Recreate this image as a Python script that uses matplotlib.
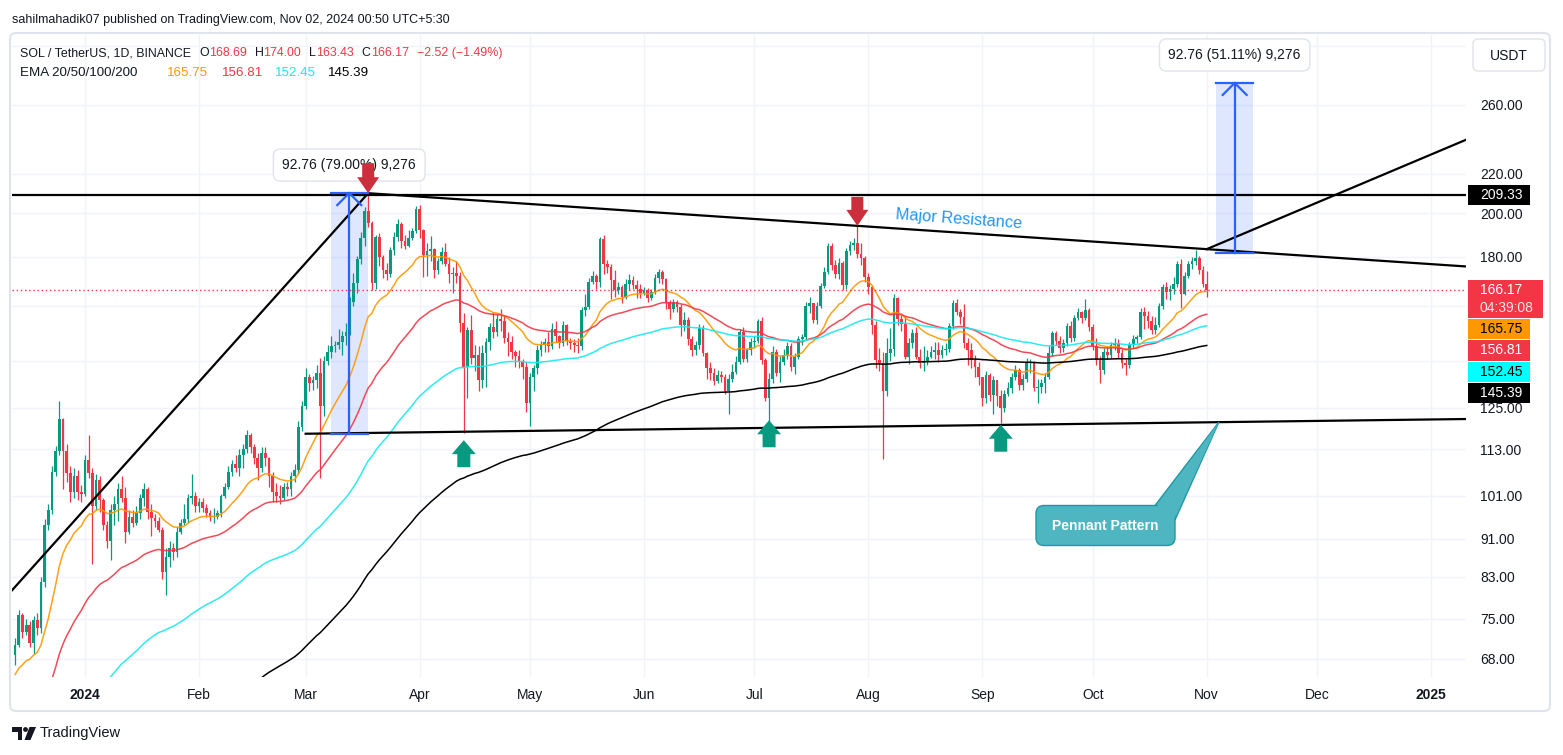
import numpy as np
import pandas as pd
import matplotlib
matplotlib.use("Agg")
import matplotlib.pyplot as plt
from matplotlib.patches import Rectangle, Polygon, FancyBboxPatch, Circle
from matplotlib.ticker import FixedLocator, FixedFormatter, NullLocator

plt.rcParams['font.family'] = ['Liberation Sans', 'DejaVu Sans']

W, H = 1563, 755
GREEN = '#089981'
RED = '#F23645'
TXT = '#131722'

# ---- SOL/USDT daily candles: (close, high, low) ----
first_open = 68.6
dec23 = [(70.4, 71.5, 67.0), (75.6, 76.5, 70.0), (72.6, 76.0, 71.5), (73.8, 75.0, 72.0), (70.7, 74.5, 70.0),
         (74.8, 75.5, 68.8), (73.3, 76.0, 72.0), (82.0, 83.0, 72.5), (94.0, 95.5, 81.0), (97.5, 99.0, 93.0),
         (107.0, 108.5, 96.5), (112.5, 114.0, 106.0), (121.6, 126.9, 111.5), (112.5, 122.0, 102.6),
         (106.7, 114.5, 104.5), (101.8, 108.5, 99.5), (106.0, 108.0, 100.5), (101.8, 107.5, 100.0),
         (101.5, 103.5, 99.5)]
jan24 = [(110.0, 111.5, 101.0), (106.7, 117.0, 105.5), (98.4, 108.0, 85.5), (105.0, 106.5, 97.5), (100.0, 106.0, 97.0),
         (94.0, 100.5, 93.0), (90.5, 95.0, 89.0), (97.5, 99.0, 86.5), (99.0, 101.0, 94.0), (102.5, 104.0, 95.0),
         (100.5, 106.0, 99.5), (92.5, 103.0, 90.0), (96.0, 97.5, 92.0), (94.5, 97.5, 93.5), (96.8, 98.5, 94.0),
         (100.4, 101.5, 95.5), (102.5, 104.0, 98.5), (97.0, 103.0, 95.5), (95.6, 99.0, 91.5), (95.0, 96.5, 93.5),
         (93.0, 96.0, 92.5), (84.0, 93.5, 82.5), (87.0, 89.0, 79.3), (89.0, 90.5, 85.0), (88.0, 90.0, 86.5),
         (92.5, 93.5, 87.0), (94.5, 95.5, 92.0), (95.5, 99.0, 94.0), (100.5, 101.5, 94.5), (100.8, 106.5, 99.0),
         (98.5, 102.0, 97.0)]
feb24 = [(99.5, 100.5, 97.0), (98.0, 100.5, 97.0), (96.8, 99.0, 96.0), (95.8, 97.5, 95.0), (96.0, 98.0, 94.5),
         (96.8, 97.5, 95.5), (101.0, 101.5, 96.0), (103.0, 104.0, 100.5), (107.0, 108.5, 102.5), (109.0, 110.0, 106.0),
         (108.0, 111.5, 107.0), (111.5, 113.0, 106.0), (113.0, 114.5, 108.0), (117.0, 118.5, 112.0), (113.5, 117.5, 112.0),
         (110.5, 114.5, 109.0), (108.0, 112.0, 105.0), (112.0, 113.5, 107.0), (110.5, 113.5, 108.5), (106.0, 111.0, 103.0),
         (102.0, 107.0, 99.5), (101.0, 104.0, 99.5), (100.5, 103.5, 99.0), (103.0, 104.0, 100.0), (102.5, 104.5, 101.0),
         (106.0, 107.0, 101.0), (107.5, 109.0, 104.5), (119.1, 121.0, 106.5), (125.5, 127.0, 118.0)]
mar24 = [(134.5, 137.5, 124.5), (132.5, 135.5, 130.0), (133.5, 135.0, 130.5), (136.0, 138.5, 131.0), (125.5, 141.0, 105.3),
         (140.0, 141.5, 122.5), (143.0, 145.5, 138.5), (145.0, 148.5, 141.0), (145.5, 147.0, 143.0), (146.5, 151.0, 144.0),
         (148.5, 150.5, 142.0), (150.0, 153.5, 145.5), (161.5, 163.5, 149.0), (169.0, 173.0, 160.0), (179.0, 180.5, 165.0),
         (188.5, 191.0, 177.0), (201.0, 203.0, 185.0), (195.5, 210.0, 193.5), (169.0, 196.5, 166.0), (189.0, 190.0, 166.5),
         (180.0, 190.5, 176.0), (174.5, 181.0, 171.0), (172.5, 177.5, 170.0), (183.0, 184.5, 171.5), (189.0, 191.0, 181.0),
         (195.0, 197.5, 187.0), (187.0, 196.0, 184.0), (185.0, 190.0, 183.5), (188.5, 192.0, 184.5), (191.5, 193.0, 187.5),
         (202.0, 203.5, 190.5)]
apr24 = [(192.0, 204.0, 188.5), (181.0, 192.5, 171.5), (182.5, 186.0, 172.0), (183.5, 189.5, 178.0), (174.5, 184.0, 171.0),
         (178.0, 179.5, 172.5), (182.0, 184.5, 177.0), (177.0, 186.0, 176.0), (172.5, 180.0, 169.0), (173.0, 175.5, 165.0),
         (172.0, 178.0, 169.0), (153.4, 173.5, 150.0), (138.0, 157.0, 117.5), (150.8, 152.0, 128.0), (141.0, 156.5, 139.0),
         (142.0, 145.5, 136.5), (133.5, 145.0, 130.0), (142.5, 145.5, 131.0), (146.5, 148.0, 131.5), (152.0, 153.5, 143.5),
         (150.0, 157.5, 148.0), (155.0, 157.0, 148.5), (154.0, 158.5, 150.5), (148.0, 156.0, 146.0), (146.5, 150.0, 141.5),
         (143.0, 148.5, 140.5), (141.5, 143.5, 138.0), (139.5, 143.5, 137.5), (138.0, 140.5, 134.0), (126.5, 139.5, 123.5)]
may24 = [(134.7, 136.0, 119.5), (137.5, 138.5, 130.0), (143.5, 145.5, 135.5), (145.5, 147.0, 141.5), (146.5, 148.0, 143.0),
         (145.0, 150.0, 143.0), (151.0, 153.5, 144.0), (148.5, 154.0, 146.5), (146.0, 149.0, 144.5), (152.5, 154.0, 145.0),
         (147.0, 153.0, 145.5), (146.0, 148.0, 144.0), (145.5, 147.5, 143.0), (145.0, 148.0, 142.5), (158.3, 159.5, 143.5),
         (159.5, 164.5, 156.0), (169.5, 171.0, 158.5), (172.0, 174.0, 168.5), (169.5, 172.5, 166.5), (187.8, 189.0, 167.5),
         (176.8, 190.0, 172.5), (175.5, 178.5, 173.0), (170.2, 177.0, 162.5), (166.0, 174.5, 163.5), (167.5, 169.5, 164.5),
         (163.5, 168.0, 161.0), (168.5, 170.5, 162.5), (170.0, 172.5, 166.0), (168.0, 172.0, 166.5), (166.5, 170.0, 163.0),
         (165.0, 168.5, 163.0)]
jun24 = [(166.0, 167.5, 164.0), (163.0, 167.0, 161.5), (165.5, 166.5, 162.0), (171.0, 172.5, 164.5), (173.5, 175.0, 169.0),
         (170.5, 174.5, 168.5), (161.4, 171.0, 158.5), (158.5, 162.0, 155.0), (161.5, 162.5, 157.5), (159.5, 162.0, 157.5),
         (152.5, 160.5, 148.5), (154.5, 157.5, 150.5), (147.5, 155.5, 145.5), (143.7, 148.5, 141.5), (145.5, 147.0, 142.0),
         (151.4, 153.0, 144.0), (142.5, 152.5, 141.5), (137.5, 143.0, 134.0), (135.8, 139.5, 133.5), (133.4, 137.5, 132.0),
         (135.3, 137.0, 132.5), (134.5, 136.5, 133.0), (130.0, 135.5, 129.0), (134.0, 135.5, 123.0), (136.3, 139.0, 133.0),
         (139.7, 141.5, 135.5), (150.0, 151.0, 139.0), (140.5, 152.0, 139.5), (143.5, 144.5, 139.5), (146.5, 148.0, 142.0)]
jul24 = [(147.0, 148.5, 144.5), (154.0, 155.0, 146.0), (140.3, 155.5, 139.0), (128.0, 141.0, 127.0), (134.0, 136.0, 120.8),
         (143.1, 145.0, 132.5), (136.0, 144.0, 135.0), (139.7, 141.5, 133.0), (142.0, 144.0, 138.5), (144.9, 146.5, 140.5),
         (138.0, 146.0, 136.5), (141.4, 142.5, 135.5), (147.6, 148.5, 140.5), (148.2, 149.5, 145.5), (159.7, 161.5, 147.5),
         (160.8, 163.5, 157.0), (154.5, 161.0, 153.5), (159.7, 161.5, 153.0), (167.9, 169.0, 159.0), (173.7, 175.5, 167.0),
         (184.9, 186.0, 172.5), (176.5, 186.0, 174.5), (172.5, 178.5, 171.0), (177.5, 179.5, 170.5), (168.0, 178.0, 166.0),
         (182.7, 184.0, 166.5), (185.4, 187.0, 181.0), (186.0, 188.5, 183.0), (181.3, 194.5, 179.5), (179.4, 186.0, 176.5),
         (171.3, 180.5, 169.5)]
aug24 = [(167.3, 173.0, 164.5), (152.8, 168.0, 149.5), (140.3, 154.0, 137.5), (139.1, 144.5, 136.5), (130.2, 143.0, 110.4),
         (142.6, 148.0, 128.5), (144.0, 151.5, 140.0), (162.9, 164.5, 141.5), (155.0, 163.5, 152.5), (153.0, 156.5, 150.5),
         (141.4, 156.0, 140.5), (146.1, 148.0, 139.0), (149.6, 151.0, 144.5), (141.4, 152.0, 140.5), (139.1, 144.0, 137.5),
         (140.0, 145.0, 136.5), (141.4, 143.5, 138.5), (143.0, 145.0, 141.0), (143.7, 146.5, 140.5), (142.0, 146.5, 139.5),
         (143.7, 145.5, 141.0), (144.0, 146.0, 142.0), (152.2, 153.5, 143.0), (160.8, 162.0, 151.0), (157.6, 162.5, 156.5),
         (155.7, 158.5, 153.0), (146.1, 160.5, 144.5), (143.7, 148.0, 138.5), (140.3, 146.0, 137.5), (138.0, 142.0, 134.5),
         (134.7, 139.5, 132.0)]
sep24 = [(127.8, 134.0, 125.5), (135.2, 136.5, 126.5), (128.8, 136.0, 127.0), (133.6, 135.0, 123.2), (128.5, 133.5, 125.5),
         (124.8, 130.5, 120.4), (129.3, 130.5, 123.5), (131.0, 133.0, 128.5), (134.7, 136.0, 129.5), (136.9, 138.5, 133.5),
         (132.1, 137.5, 130.5), (134.0, 135.5, 130.5), (139.1, 141.0, 133.0), (139.5, 140.5, 136.0), (131.1, 140.0, 130.0),
         (131.5, 134.0, 126.5), (132.5, 134.0, 129.5), (134.7, 136.0, 129.5), (142.6, 145.0, 134.0), (149.6, 150.5, 141.5),
         (147.0, 150.5, 145.5), (144.5, 148.5, 142.5), (146.0, 147.5, 143.0), (152.2, 153.5, 145.0), (147.8, 154.0, 146.5),
         (155.1, 156.5, 147.0), (157.6, 159.0, 154.5), (155.1, 158.0, 153.5), (158.3, 162.5, 154.5), (152.0, 159.0, 150.5)]
oct24 = [(144.9, 153.0, 143.5), (140.3, 148.0, 138.5), (136.9, 141.5, 132.8), (143.1, 144.5, 135.5), (142.0, 145.0, 140.5),
         (145.5, 146.5, 141.0), (146.1, 148.0, 143.5), (142.6, 147.5, 141.0), (139.1, 144.0, 137.5), (138.5, 140.5, 135.2),
         (145.5, 146.5, 137.5), (147.6, 149.0, 144.5), (148.2, 149.0, 146.0), (157.6, 159.0, 147.5), (156.0, 159.5, 151.0),
         (154.0, 158.0, 151.5), (150.8, 156.0, 149.5), (152.5, 155.5, 149.5), (159.7, 161.0, 152.0), (167.3, 168.5, 158.5),
         (165.5, 169.5, 162.5), (166.5, 168.0, 162.0), (168.5, 171.5, 164.5), (176.8, 178.0, 167.5), (164.5, 179.0, 159.0),
         (172.0, 173.5, 164.0), (177.0, 178.0, 171.0), (178.2, 180.0, 175.0), (179.5, 183.0, 176.5), (174.4, 180.5, 172.5),
         (168.69, 176.0, 167.5)]
nov24 = [(166.17, 174.00, 163.43)]

# EMA 20/50/100/200: value just before the first candle (read at the left edge) and last values from the legend
ema_spans = [20, 50, 100, 200]
ema_seed = [65.0, 55.0, 43.0, 32.0]
ema_last = [165.75, 156.81, 152.45, 145.39]
ema_colors = ['#FF9800', '#F23645', '#18E8F2', '#000000']

level_price = 209.33
last_price = 166.17

months = ['2024', 'Feb', 'Mar', 'Apr', 'May', 'Jun', 'Jul', 'Aug', 'Sep', 'Oct', 'Nov', 'Dec', '2025']
price_ticks = [68, 75, 83, 91, 101, 113, 125, 140, 160, 180, 200, 220, 260, 300]
hidden_ticks = [140, 160, 300]   # covered by badges / the USDT box in the reference

# ---------------------------------------------------------------------
rows = dec23 + jan24 + feb24 + mar24 + apr24 + may24 + jun24 + jul24 + aug24 + sep24 + oct24 + nov24
close = np.array([r[0] for r in rows])
high = np.array([r[1] for r in rows])
low = np.array([r[2] for r in rows])
base = pd.Timestamp('2024-01-01')
dates = pd.date_range('2023-12-13', periods=len(rows), freq='D')
x = np.asarray((dates - base).days, dtype=float)
opens = np.r_[first_open, close[:-1]]
high = np.maximum(high, np.maximum(opens, close))
low = np.minimum(low, np.minimum(opens, close))


def day(s):
    return float((pd.Timestamp(s) - base).days)


fig = plt.figure(figsize=(W / 100, H / 100), dpi=100)
fig.patch.set_facecolor('white')
L, R, T, B = 12, 1466, 35, 677
ax = fig.add_axes([L / W, 1 - B / H, (R - L) / W, (B - T) / H])
ax.set_yscale('log')
x0, x1 = -19.85, 375.5
y0, y1 = 65.1, 308.0
ax.set_xlim(x0, x1)
ax.set_ylim(y0, y1)

for s in ax.spines.values():
    s.set_visible(False)
ax.grid(True, color='#F0F3FA', lw=1)
ax.set_axisbelow(True)

# candles
up = close >= opens
col = np.where(up, GREEN, RED)
ax.vlines(x, low, high, colors=col, lw=0.9, zorder=3)
bot = np.minimum(opens, close)
top = np.maximum(np.maximum(opens, close), bot * 1.003)
ax.bar(x, top - bot, bottom=bot, width=0.74, color=col, lw=0, zorder=4)

# EMAs
for span, seed, c in zip(ema_spans, ema_seed, ema_colors):
    e = pd.Series(np.r_[seed, close]).ewm(span=span, adjust=False).mean().values[1:]
    ax.plot(x, e, color=c, lw=1.1, zorder=5, alpha=0.9 if c != '#000000' else 1)


# drawings
def ext(p, q, xe):
    (xa, pa), (xb, pb) = p, q
    return np.exp(np.log(pa) + (np.log(pb) - np.log(pa)) * (xe - xa) / (xb - xa))


peak = (day('2024-03-18'), 210.0)
res_b = (day('2024-11-01'), 183.4)
sup_a = (day('2024-03-01'), 117.31)
sup_b = (day('2024-11-01'), 120.6)
left_a = (x0, 80.3)
brk_end = (x1, 239.0)

ax.axhline(level_price, color='black', lw=1.6, zorder=6)
ax.axhline(last_price, color=RED, lw=1, ls=(0, (1, 2)), zorder=6)
ax.plot([left_a[0], peak[0]], [left_a[1], peak[1]], color='black', lw=1.6, zorder=6)
ax.plot([peak[0], x1], [peak[1], ext(peak, res_b, x1)], color='black', lw=1.6, zorder=6)
ax.plot([sup_a[0], x1], [sup_a[1], ext(sup_a, sup_b, x1)], color='black', lw=1.6, zorder=6)
ax.plot([res_b[0], brk_end[0]], [res_b[1], brk_end[1]], color='black', lw=1.6, zorder=6)

# price ticks / month ticks
ax.yaxis.set_major_locator(FixedLocator(price_ticks))
ax.yaxis.set_major_formatter(FixedFormatter(['' if v in hidden_ticks else '%.2f' % v for v in price_ticks]))
ax.yaxis.set_minor_locator(NullLocator())
ax.yaxis.tick_right()
ax.tick_params(axis='y', length=0, pad=10, labelsize=10, labelcolor=TXT)
mstarts = pd.date_range('2024-01-01', '2025-01-01', freq='MS')
ax.set_xticks(np.asarray((mstarts - base).days, dtype=float))
ax.set_xticklabels(months)
ax.tick_params(axis='x', length=0, pad=8, labelsize=10, labelcolor=TXT)
for t in ax.get_xticklabels():
    if t.get_text() in ('2024', '2025'):
        t.set_fontweight('bold')

# overlay in pixel coordinates
ov = fig.add_axes([0, 0, 1, 1], zorder=5)
ov.set_xlim(0, W)
ov.set_ylim(H, 0)
ov.axis('off')
ov.patch.set_visible(False)


def to_px(d, p):
    X, Y = ax.transData.transform((d, p))
    return X, H - Y


# measurement boxes
BLUE = '#2962FF'
measures = [((66.8, 76.9), (117.31, 210.07), '92.76 (79.00%) 9,276'),
            ((307.5, 317.7), (181.49, 274.25), '92.76 (51.11%) 9,276')]
for (da, db), (pa, pb), lab in measures:
    ax.add_patch(Rectangle((da, pa), db - da, pb - pa, fc=BLUE, alpha=0.15, ec='none', zorder=2))
    ax.plot([da, db], [pa, pa], color=BLUE, lw=1.6, zorder=7)
    ax.plot([da, db], [pb, pb], color=BLUE, lw=1.6, zorder=7)
    dc = (da + db) / 2
    ax.plot([dc, dc], [pa, pb], color=BLUE, lw=1.6, zorder=7)
    tx, ty = to_px(dc, pb)
    ov.plot([tx - 12, tx, tx + 12], [ty + 12, ty, ty + 12], color=BLUE, lw=1.6)
    ov.text(tx, ty - 28, lab, ha='center', va='center', fontsize=10, color=TXT, zorder=4,
            bbox=dict(boxstyle='round,pad=0.65,rounding_size=0.5', fc='white', ec='#E0E3EB', lw=1))


def block_arrow(d, p, color, down, hw, hh, sw, sh):
    tx, ty = to_px(d, p)
    s = -1 if down else 1
    pts = [(0, 0), (hw, hh), (sw, hh), (sw, hh + sh), (-sw, hh + sh), (-sw, hh), (-hw, hh)]
    ov.add_patch(Polygon([(tx + a, ty + s * b) for a, b in pts], closed=True, fc=color, ec='none', zorder=10))


block_arrow(peak[0], peak[1], '#CC2F3C', True, 11, 16, 6, 14)
block_arrow(day('2024-07-29'), ext(peak, res_b, day('2024-07-29')), '#CC2F3C', True, 11, 16, 6, 13)
block_arrow(day('2024-04-13'), 115.5, GREEN, False, 12, 14, 6.5, 13)
block_arrow(day('2024-07-05'), 121.2, GREEN, False, 12, 14, 6.5, 13)
block_arrow(day('2024-09-06'), 119.9, GREEN, False, 12, 14, 6.5, 13)

ov.text(959, 219, 'Major Resistance', color='#2196F3', fontsize=11.8, rotation=-4.2,
        ha='center', va='center', rotation_mode='anchor')

# pennant callout
TEAL = '#4DB6C1'
TEAL_E = '#1E98A6'
tip = to_px(308.3, ext(sup_a, sup_b, 308.3))
ptr = [(1155, 505.5), (1175, 520), tip]
ov.add_patch(Polygon(ptr, closed=True, fc=TEAL, ec=TEAL_E, lw=1))
ov.add_patch(FancyBboxPatch((1036, 505.5), 139, 40, boxstyle='round,pad=0,rounding_size=8',
                            fc=TEAL, ec=TEAL_E, lw=1))
ov.add_patch(Polygon([(1157, 506.5), (1174, 519), tip], closed=True, fc=TEAL, ec='none'))
ov.text(1105.5, 525.5, 'Pennant Pattern', color='white', fontsize=10, fontweight='bold',
        ha='center', va='center')

# chart frame and price-scale box
ov.add_patch(FancyBboxPatch((10, 33), 1540, 678, boxstyle='round,pad=0,rounding_size=6',
                            fc='none', ec='#E0E3EB', lw=1.5))
ov.add_patch(FancyBboxPatch((1473, 39), 72, 32, boxstyle='round,pad=0,rounding_size=5',
                            fc='white', ec='#E0E3EB', lw=1))
ov.text(1509, 55.5, 'USDT', fontsize=10, color=TXT, ha='center', va='center')

# price badges
badges = [(185, 205, 1530, 'black', ['%.2f' % level_price], 'white'),
          (280, 318, 1543, RED, ['%.2f' % last_price, '04:39:08'], 'white'),
          (319, 339, 1530, '#FF9800', ['%.2f' % ema_last[0]], 'black'),
          (340, 361, 1530, RED, ['%.2f' % ema_last[1]], 'white'),
          (362, 382, 1530, '#00FFFF', ['%.2f' % ema_last[2]], 'black'),
          (383, 403, 1530, 'black', ['%.2f' % ema_last[3]], 'white')]
for yt, yb, xr, fc, lines, tc in badges:
    ov.add_patch(Rectangle((1468, yt), xr - 1468, yb - yt, fc=fc, ec='none'))
    if len(lines) == 1:
        ov.text(1480, (yt + yb) / 2, lines[0], color=tc, fontsize=10, va='center', ha='left')
    else:
        ov.text(1480, yt + 10, lines[0], color=tc, fontsize=10, va='center', ha='left')
        ov.text(1480, yt + 28, lines[1], color='#FCE4E6', fontsize=10, va='center', ha='left')

# header
ov.text(12, 20, 'sahilmahadik07 published on TradingView.com, Nov 02, 2024 00:50 UTC+5:30',
        fontsize=9.0, color=TXT, va='center', ha='left')
fig.canvas.draw()
rend = fig.canvas.get_renderer()


def run(px, py, parts, size=8.9, gap=0.0):
    for s, c in parts:
        t = ov.text(px, py, s, color=c, fontsize=size, va='center', ha='left')
        px += t.get_window_extent(renderer=rend).width + gap
    return px


xp = run(20, 53, [('SOL / TetherUS, 1D, BINANCE', TXT)]) + 8
for k, v in [('O', '168.69'), ('H', '174.00'), ('L', '163.43'), ('C', '166.17')]:
    xp = run(xp, 53, [(k, TXT), (v, RED)]) + 8
run(xp, 53, [('\u22122.52 (\u22121.49%)', RED)])
run(20, 73, [('EMA 20/50/100/200', TXT)], size=9.6)
for xq, v, c in zip([167, 222, 275, 328], ema_last, ema_colors):
    run(xq, 73, [('%.2f' % v, c)], size=9.6)

# TradingView logo
ov.add_patch(Rectangle((12, 727), 10, 4.5, fc=TXT, ec='none'))
ov.add_patch(Rectangle((17.5, 727), 4.5, 13, fc=TXT, ec='none'))
ov.add_patch(Circle((25.5, 729.5), 2.4, fc=TXT, ec='none'))
ov.add_patch(Polygon([(29.5, 727), (36, 727), (30.5, 740), (24.5, 740)], closed=True, fc=TXT, ec='none'))
ov.text(40, 733.5, 'TradingView', fontsize=10.5, color=TXT, va='center', ha='left')

fig.savefig('out.png', dpi=100, facecolor='white')
